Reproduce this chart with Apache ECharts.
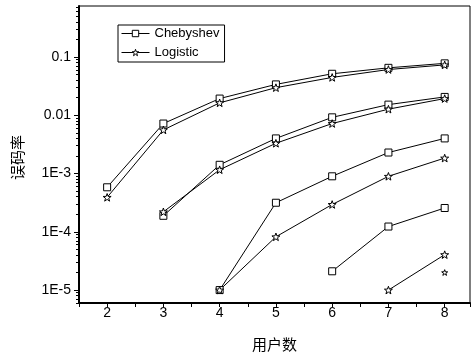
<!DOCTYPE html>
<html><head><meta charset="utf-8">
<script src="https://cdn.jsdelivr.net/npm/echarts@6/dist/echarts.min.js"></script>
<style>html,body{margin:0;padding:0;background:#fff}#c{width:472px;height:357px}</style>
</head><body><div id="c"></div>
<script>
// ---- data ----
const users = [2, 3, 4, 5, 6, 7, 8];
const chebyshevA = [5.8e-4, 7.2e-3, 0.0193, 0.0338, 0.0514, 0.065, 0.0776];
const logisticA  = [3.9e-4, 5.6e-3, 0.0163, 0.0297, 0.0445, 0.0608, 0.073];
const chebyshevB = [null, 1.88e-4, 1.41e-3, 4.0e-3, 9.2e-3, 0.0152, 0.0206];
const logisticB  = [null, 2.2e-4, 1.16e-3, 3.3e-3, 7.2e-3, 0.0127, 0.0193];
const chebyshevC = [null, null, 1.0e-5, 3.15e-4, 8.95e-4, 2.29e-3, 4.0e-3];
const logisticC  = [null, null, 1.0e-5, 8.2e-5, 2.94e-4, 8.95e-4, 1.84e-3];
const chebyshevD = [null, null, null, null, 2.1e-5, 1.23e-4, 2.56e-4];
const logisticD  = [null, null, null, null, null, 1.0e-5, 4.05e-5];
const logisticE  = [null, null, null, null, null, null, 2.0e-5];

const legendNames = ['Chebyshev', 'Logistic'];
const xTickLabels = [2, 3, 4, 5, 6, 7, 8];
const yTickValues = [1e-5, 1e-4, 1e-3, 0.01, 0.1];
const yTickLabels = ['1E-5', '1E-4', '1E-3', '0.01', '0.1'];
const yMinorMultipliers = [2, 3, 4, 5, 6, 7, 8, 9];
const yMinorDecades = [1e-6, 1e-5, 1e-4, 1e-3, 0.01, 0.1];

// ---- build ----
const Y_MIN = 6.0e-6, Y_MAX = 0.748;
const yMinorTicks = [];
yMinorDecades.forEach(d => yMinorMultipliers.forEach(m => {
  const v = m * d;
  if (v >= Y_MIN && v <= Y_MAX) yMinorTicks.push(v);
}));

const STAR = 'path://M0,-10L2.35,-3.24L9.51,-3.09L3.8,1.24L5.88,8.09L0,4L-5.88,8.09L-3.8,1.24L-9.51,-3.09L-2.35,-3.24Z';

function mk(name, arr, symbol, size) {
  return {
    type: 'line', name: name,
    data: users.map((x, i) => [x, arr[i]]).filter(p => p[1] != null),
    symbol: symbol, symbolSize: size, symbolKeepAspect: true, showSymbol: true,
    lineStyle: { color: '#000', width: 1 },
    itemStyle: { color: '#fff', borderColor: '#000', borderWidth: 1 },
    emphasis: { disabled: true },
    animation: false
  };
}

const FONT = '"Liberation Sans", Arial, sans-serif';
const CJK = '"Noto Sans CJK SC", sans-serif';

const chart = echarts.init(document.getElementById('c'), null, { renderer: 'canvas' });
chart.setOption({
  backgroundColor: '#fff',
  animation: false,
  textStyle: { fontFamily: FONT, color: '#000' },
  grid: { left: 79, right: 2, top: 6, bottom: 51, show: true, borderColor: '#000', borderWidth: 1, backgroundColor: 'transparent' },
  legend: {
    data: legendNames,
    orient: 'vertical',
    left: 118, top: 25,
    padding: [2, 5, 3, 3],
    itemWidth: 28, itemHeight: 8, itemGap: 6,
    borderColor: '#000', borderWidth: 1,
    itemStyle: { color: '#fff', borderColor: '#000', borderWidth: 1 },
    lineStyle: { color: '#000', width: 1 },
    textStyle: { fontSize: 13, fontFamily: FONT, color: '#000' },
    selectedMode: false
  },
  xAxis: {
    type: 'value', min: 1.5, max: 8.45, interval: 0.5,
    name: '用户数', nameLocation: 'middle', nameGap: 34,
    nameTextStyle: { fontFamily: CJK, fontSize: 15, color: '#000' },
    axisLine: { show: true, onZero: false, lineStyle: { color: '#000', width: 2 } },
    axisTick: { show: true, length: 4, lineStyle: { color: '#000', width: 1 } },
    axisLabel: { customValues: xTickLabels, margin: 3, fontSize: 14, fontFamily: FONT, color: '#000' },
    splitLine: { show: false }
  },
  yAxis: [{
    type: 'log', min: Y_MIN, max: Y_MAX,
    name: '误码率', nameLocation: 'middle', nameGap: 54,
    nameTextStyle: { fontFamily: CJK, fontSize: 15, color: '#000', padding: [0, 0, 0, -6] },
    axisLine: { show: true, onZero: false, lineStyle: { color: '#000', width: 2 } },
    axisTick: { show: true, customValues: yTickValues, length: 5, lineStyle: { color: '#000', width: 1 } },
    axisLabel: {
      customValues: yTickValues, margin: 8, fontSize: 14, fontFamily: FONT, color: '#000',
      formatter: function (v) {
        for (let i = 0; i < yTickValues.length; i++) {
          if (Math.abs(v / yTickValues[i] - 1) < 1e-6) return yTickLabels[i];
        }
        return '';
      }
    },
    splitLine: { show: false }
  }, {
    type: 'log', min: Y_MIN, max: Y_MAX, position: 'left',
    axisLine: { show: false },
    axisTick: { show: true, customValues: yMinorTicks, length: 3, lineStyle: { color: '#000', width: 1 } },
    axisLabel: { show: false },
    splitLine: { show: false }
  }],
  series: [
    mk('Chebyshev', chebyshevA, 'rect', 7),
    mk('Logistic', logisticA, STAR, 8),
    mk('Chebyshev', chebyshevB, 'rect', 7),
    mk('Logistic', logisticB, STAR, 8),
    mk('Chebyshev', chebyshevC, 'rect', 7),
    mk('Logistic', logisticC, STAR, 8),
    mk('Chebyshev', chebyshevD, 'rect', 7),
    mk('Logistic', logisticD, STAR, 8),
    mk('Logistic', logisticE, STAR, 6)
  ]
});
</script></body></html>
